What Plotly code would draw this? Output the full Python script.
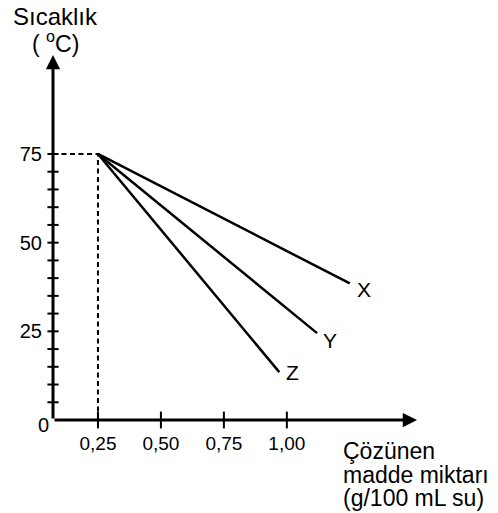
import plotly.graph_objects as go

# ---- data ----
start_point = (0.25, 75)
series_names = ["X", "Y", "Z"]
end_x = [1.25, 1.12, 0.97]
end_y = [38.5, 24.5, 13.5]
x_tick_vals = [0.25, 0.50, 0.75, 1.00]
x_tick_text = ["0,25", "0,50", "0,75", "1,00"]
y_major_vals = [25, 50, 75]
y_major_text = ["25", "50", "75"]
y_all_tick_vals = [5, 10, 15, 20, 25, 30, 35, 40, 45, 50, 55, 60, 65, 70, 75]

# page body adds an 8px margin, so the figure is 8px smaller and
# reference pixel positions are shifted by that offset
OFF = 8
W, H = 498 - OFF, 513 - OFF
ML, MR, MT, MB = 47 - OFF, 80, 52 - OFF, 93
PW, PH = W - ML - MR, H - MT - MB
X0, X1 = 0.0715, 1.5207
Y0, Y1 = 0.0, 103.75
XS = PW / (X1 - X0)   # px per x unit
YS = PH / (Y1 - Y0)   # px per y unit

FONT = "Liberation Sans, Arial, Helvetica, sans-serif"

def px(xp):
    return (xp - OFF - ML) / PW

def py(yp):
    return (H - MB - (yp - OFF)) / PH

fig = go.Figure()

# dashed guide lines
fig.add_trace(go.Scatter(x=[X0, start_point[0], start_point[0]],
                         y=[start_point[1], start_point[1], Y0],
                         mode="lines", line=dict(color="black", width=2, dash="5px,3.5px"),
                         hoverinfo="skip", showlegend=False, cliponaxis=False))

# series lines
for name, ex, ey in zip(series_names, end_x, end_y):
    fig.add_trace(go.Scatter(x=[start_point[0], ex], y=[start_point[1], ey],
                             mode="lines", line=dict(color="black", width=2.5),
                             name=name, showlegend=False, cliponaxis=False))

# tick marks crossing axes
fig.add_trace(go.Scatter(x=[X0] * len(y_all_tick_vals), y=y_all_tick_vals, mode="markers",
                         marker=dict(symbol="line-ew-open", size=8, color="black",
                                     line=dict(color="black", width=2)),
                         hoverinfo="skip", showlegend=False, cliponaxis=False))
fig.add_trace(go.Scatter(x=x_tick_vals, y=[Y0] * len(x_tick_vals), mode="markers",
                         marker=dict(symbol="line-ns-open", size=12, color="black",
                                     line=dict(color="black", width=2)),
                         hoverinfo="skip", showlegend=False, cliponaxis=False))

# axes as arrows (arrow tip overshoots the target by a few px, so back off)
fig.add_annotation(x=X0, y=Y1 - 3 / YS, ax=X0, ay=Y0, xref="x", yref="y", axref="x", ayref="y",
                   showarrow=True, arrowhead=2, arrowsize=0.95, arrowwidth=3, arrowcolor="black", text="")
fig.add_annotation(x=X1 - 1 / XS, y=Y0, ax=X0, ay=Y0, xref="x", yref="y", axref="x", ayref="y",
                   showarrow=True, arrowhead=2, arrowsize=0.95, arrowwidth=3, arrowcolor="black", text="")

# series labels
label_pos = {"X": (363, 289), "Y": (329, 340), "Z": (290, 372)}
for name in series_names:
    lx, ly = label_pos[name]
    fig.add_annotation(x=px(lx), y=py(ly), xref="paper", yref="paper", text=name, showarrow=False,
                       xanchor="center", yanchor="middle", font=dict(family=FONT, size=21, color="black"))

# titles
fig.add_annotation(x=px(49.5), y=py(16.5), xref="paper", yref="paper", text="Sıcaklık", showarrow=False,
                   xanchor="center", yanchor="middle", font=dict(family=FONT, size=24, color="black"))
fig.add_annotation(x=px(50), y=py(42), xref="paper", yref="paper", text="( <sup>o</sup>C)", showarrow=False,
                   xanchor="center", yanchor="middle", font=dict(family=FONT, size=23, color="black"))
for i, line in enumerate(["Çözünen", "madde miktarı", "(g/100 mL su)"]):
    fig.add_annotation(x=px(340), y=py(451 + i * 23.5), xref="paper", yref="paper", text=line,
                       showarrow=False, xanchor="left", yanchor="middle",
                       font=dict(family=FONT, size=23, color="black"))

# "0" at origin
fig.add_annotation(x=px(37), y=py(425), xref="paper", yref="paper", text="0", showarrow=False,
                   xanchor="center", yanchor="middle", font=dict(family=FONT, size=20, color="black"))

fig.update_layout(
    width=W, height=H, margin=dict(l=ML, r=MR, t=MT, b=MB),
    paper_bgcolor="white", plot_bgcolor="white",
    xaxis=dict(range=[X0, X1], showgrid=False, zeroline=False, showline=False,
               tickmode="array", tickvals=x_tick_vals, ticktext=x_tick_text, ticks="",
               ticklabelstandoff=10, tickfont=dict(family=FONT, size=19, color="black"), fixedrange=True),
    yaxis=dict(range=[Y0, Y1], showgrid=False, zeroline=False, showline=False,
               tickmode="array", tickvals=y_major_vals, ticktext=y_major_text, ticks="",
               ticklabelstandoff=10, tickfont=dict(family=FONT, size=20, color="black"), fixedrange=True),
    showlegend=False,
)

fig.write_html("out.html")
